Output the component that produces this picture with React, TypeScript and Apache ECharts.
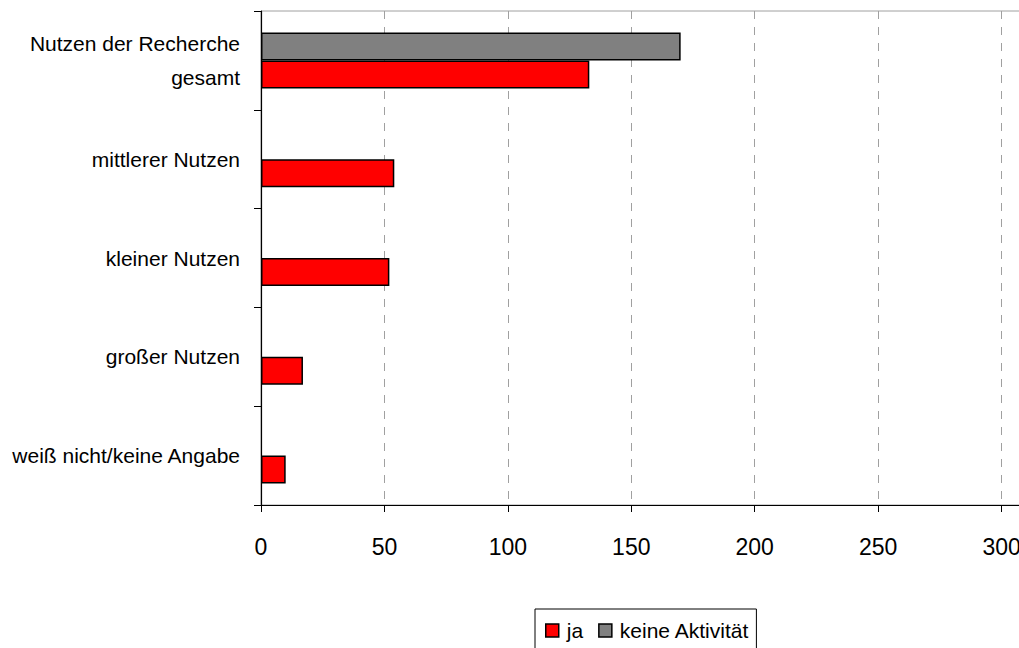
import React, { useEffect, useRef } from "react";
import * as echarts from "echarts";

const categories = [
  "Nutzen der Recherche\ngesamt",
  "mittlerer Nutzen",
  "kleiner Nutzen",
  "großer Nutzen",
  "weiß nicht/keine Angabe",
];
const jaValues = [133, 54, 52, 17, 10];
const keineAktivitaetValues = [170, null, null, null, null];
const xTicks = { min: 0, max: 350, interval: 50 };

const FONT = "'Liberation Sans', Arial, sans-serif";

export default function App() {
  const ref = useRef<HTMLDivElement>(null);
  useEffect(() => {
    if (!ref.current) return;
    const chart = echarts.init(ref.current, null, { renderer: "svg" });
    chart.setOption({
      animation: false,
      backgroundColor: "#ffffff",
      textStyle: { fontFamily: FONT },
      grid: {
        left: 261,
        top: 11,
        bottom: 143,
        right: 0,
        show: true,
        borderColor: "#a0a0a0",
        borderWidth: 1,
        containLabel: false,
        outerBoundsMode: "none",
      },
      legend: {
        data: ["ja", "keine Aktivität"],
        left: 535,
        top: 609,
        orient: "horizontal",
        padding: [11, 7, 20, 10],
        borderColor: "#000",
        borderWidth: 1,
        itemWidth: 13,
        itemHeight: 13,
        itemGap: 15,
        icon: "rect",
        itemStyle: { borderColor: "#000", borderWidth: 1.5 },
        textStyle: {
          fontFamily: FONT,
          fontSize: 21,
          color: "#000",
          padding: [0, 0, 0, 3],
        },
      },
      xAxis: {
        type: "value",
        min: xTicks.min,
        max: xTicks.max,
        interval: xTicks.interval,
        axisLine: { show: true, lineStyle: { color: "#000", width: 1.2 } },
        axisTick: { show: true, length: 7, lineStyle: { color: "#000" } },
        axisLabel: {
          fontFamily: FONT,
          fontSize: 23,
          color: "#000",
          margin: 30,
          showMaxLabel: false,
        },
        splitLine: {
          show: true,
          lineStyle: { color: "#a0a0a0", type: [8, 8], width: 1 },
        },
      },
      yAxis: {
        type: "category",
        data: categories,
        inverse: true,
        axisLine: { show: true, lineStyle: { color: "#000", width: 1.2 } },
        axisTick: { show: true, length: 7, lineStyle: { color: "#000" } },
        axisLabel: {
          fontFamily: FONT,
          fontSize: 21,
          color: "#000",
          margin: 21,
          lineHeight: 34,
          align: "right",
        },
        splitLine: { show: false },
      },
      series: [
        {
          name: "keine Aktivität",
          type: "bar",
          data: keineAktivitaetValues,
          barWidth: 28,
          barGap: "0%",
          itemStyle: { color: "#808080", borderColor: "#000", borderWidth: 1.5 },
        },
        {
          name: "ja",
          type: "bar",
          data: jaValues,
          barWidth: 28,
          barGap: "0%",
          itemStyle: { color: "#ff0000", borderColor: "#000", borderWidth: 1.5 },
        },
      ],
    });
    return () => chart.dispose();
  }, []);
  return (
    <div
      style={{ position: "fixed", left: 0, top: 0, width: 1019, height: 648, overflow: "hidden", background: "#fff" }}
    >
      <div ref={ref} style={{ position: "absolute", left: 0, top: 0, width: 1125, height: 648 }} />
    </div>
  );
}
